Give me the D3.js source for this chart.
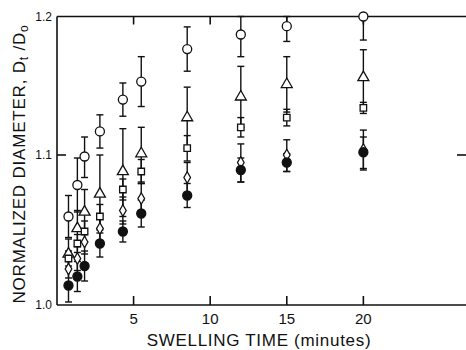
<!DOCTYPE html>
<html>
<head>
<meta charset="utf-8">
<script src="https://cdn.jsdelivr.net/npm/d3@7"></script>
<style>
  body { margin: 0; background: #fff; }
  text { font-family: "Liberation Sans", Arial, sans-serif; fill: #111; }
</style>
</head>
<body>
<div id="chart"></div>
<script>
var W = 466, H = 350;

// swelling time (minutes)
var times = [0.75, 1.33, 1.8, 2.8, 4.3, 5.5, 8.5, 12, 15, 20];

// normalized diameter Dt/Do, one array per symbol
var openCircle   = [1.059, 1.080, 1.099, 1.117, 1.140, 1.153, 1.1765, 1.187, 1.193, 1.200];
var openTriangle = [1.034, 1.051, 1.062, 1.074, 1.089, 1.101, 1.127, 1.142, 1.151, 1.156];
var openSquare   = [1.031, 1.041, 1.049, 1.059, 1.077, 1.089, 1.105, 1.120, 1.127, 1.134];
var openDiamond  = [1.024, 1.031, 1.042, 1.051, 1.063, 1.071, 1.085, 1.095, 1.100, 1.104];
var filledCircle = [1.013, 1.019, 1.026, 1.041, 1.049, 1.061, 1.073, 1.090, 1.095, 1.102];

// error bar half widths
var errCircle   = [0.014, 0.018, 0.014, 0.012, 0.012, 0.018, 0.016, 0.016, 0.011, 0.017];
var errTriangle = [0.010, 0.012, 0.015, 0.026, 0.030, 0.019, 0.022, 0.022, 0.020, 0.020];
var errSquare   = [0.005, 0.006, 0.007, 0.008, 0.007, 0.008, 0.009, 0.007, 0.006, 0.004];
var errDiamond  = [0.006, 0.008, 0.008, 0.009, 0.009, 0.010, 0.010, 0.013, 0.011, 0.014];
var errFilled   = [0.011, 0.010, 0.010, 0.009, 0.007, 0.009, 0.008, 0.008, 0.006, 0.011];

var xTicks = [5, 10, 15, 20];
var yTicks = [1.0, 1.1, 1.2];

var series = [
  {vals: openCircle,   errs: errCircle,   type: d3.symbolCircle,   size: 64, fill: "#fff"},
  {vals: openTriangle, errs: errTriangle, type: d3.symbolTriangle, size: 52, fill: "#fff"},
  {vals: openSquare,   errs: errSquare,   type: d3.symbolSquare,   size: 42, fill: "#fff"},
  {vals: openDiamond,  errs: errDiamond,  type: d3.symbolDiamond,  size: 38, fill: "#fff"},
  {vals: filledCircle, errs: errFilled,   type: d3.symbolCircle,   size: 64, fill: "#111"}
];

var x = d3.scaleLinear().domain([0, 26.7]).range([57, 466]);
// the scanned figure's y axis is not quite uniform
var y = d3.scaleLinear().domain([1.0, 1.1, 1.2]).range([305, 155, 16.5]);

var svg = d3.select("#chart").append("svg")
    .attr("width", W).attr("height", H);

// frame
var frame = svg.append("g").attr("stroke", "#111").attr("stroke-width", 1.6).attr("fill", "none");
frame.append("line").attr("x1", x(0)).attr("x2", x(0)).attr("y1", y(1.2)).attr("y2", y(1.0));
frame.append("line").attr("x1", x(0)).attr("x2", W).attr("y1", y(1.2)).attr("y2", y(1.2));
frame.append("line").attr("x1", x(0)).attr("x2", W).attr("y1", y(1.0)).attr("y2", y(1.0));

// ticks
frame.selectAll(".xb").data(xTicks).enter().append("line")
    .attr("x1", d => x(d)).attr("x2", d => x(d)).attr("y1", y(1.0)).attr("y2", y(1.0) - 9);
frame.selectAll(".xt").data(xTicks).enter().append("line")
    .attr("x1", d => x(d)).attr("x2", d => x(d)).attr("y1", y(1.2)).attr("y2", y(1.2) + 8);
frame.append("line").attr("x1", x(0)).attr("x2", x(0) + 9).attr("y1", y(1.1)).attr("y2", y(1.1));
frame.append("line").attr("x1", W - 9).attr("x2", W).attr("y1", y(1.1)).attr("y2", y(1.1));

// tick labels
svg.selectAll(".xl").data(xTicks).enter().append("text")
    .attr("x", d => x(d)).attr("y", 324)
    .attr("text-anchor", "middle").style("font-size", "15px")
    .text(d => d);
svg.selectAll(".yl").data(yTicks).enter().append("text")
    .attr("x", 52).attr("y", d => y(d) + 4)
    .attr("text-anchor", "end").style("font-size", "12px")
    .text(d => d.toFixed(1));

// axis titles
svg.append("text")
    .attr("x", 259).attr("y", 346)
    .attr("text-anchor", "middle").style("font-size", "17px").style("letter-spacing", "0.7px")
    .text("SWELLING TIME (minutes)");

var yt = svg.append("text")
    .attr("transform", "translate(25," + 164 + ") rotate(-90)")
    .attr("text-anchor", "middle").style("font-size", "17px").style("letter-spacing", "0.8px");
yt.append("tspan").text("NORMALIZED DIAMETER, D");
yt.append("tspan").attr("baseline-shift", "-25%").style("font-size", "12px").text("t");
yt.append("tspan").text(" /D");
yt.append("tspan").attr("baseline-shift", "-25%").style("font-size", "12px").text("o");

// error bars
var bars = svg.append("g").attr("stroke", "#111").attr("stroke-width", 1.4);
series.forEach(function (s) {
  var g = bars.selectAll(null).data(times).enter().append("g");
  g.append("line")
    .attr("x1", d => x(d)).attr("x2", d => x(d))
    .attr("y1", (d, i) => y(Math.min(1.2, s.vals[i] + s.errs[i])))
    .attr("y2", (d, i) => y(s.vals[i] - s.errs[i]));
  g.append("line")
    .attr("x1", d => x(d) - 3.5).attr("x2", d => x(d) + 3.5)
    .attr("y1", (d, i) => y(Math.min(1.2, s.vals[i] + s.errs[i])))
    .attr("y2", (d, i) => y(Math.min(1.2, s.vals[i] + s.errs[i])));
  g.append("line")
    .attr("x1", d => x(d) - 3.5).attr("x2", d => x(d) + 3.5)
    .attr("y1", (d, i) => y(s.vals[i] - s.errs[i]))
    .attr("y2", (d, i) => y(s.vals[i] - s.errs[i]));
});

// markers
series.forEach(function (s) {
  var sym = d3.symbol().type(s.type).size(s.size);
  svg.append("g").selectAll("path").data(times).enter().append("path")
    .attr("transform", (d, i) => "translate(" + x(d) + "," + y(s.vals[i]) + ")")
    .attr("d", sym)
    .attr("fill", s.fill)
    .attr("stroke", "#111")
    .attr("stroke-width", 1.3);
});
</script>
</body>
</html>
